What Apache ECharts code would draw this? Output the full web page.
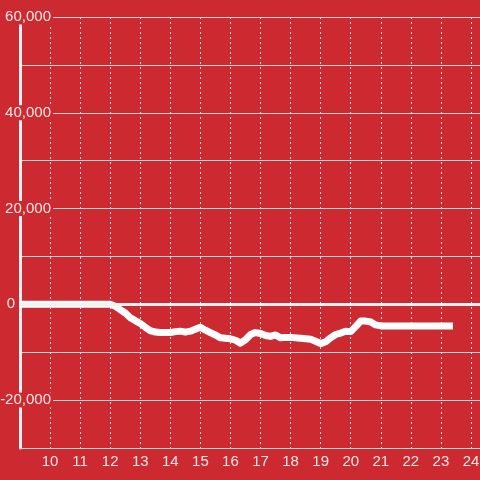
<!DOCTYPE html>
<html>
<head>
<meta charset="utf-8">
<script src="https://cdn.jsdelivr.net/npm/echarts@6/dist/echarts.min.js"></script>
<style>html,body{margin:0;padding:0;background:#cc2a30;}#c{width:480px;height:480px;}</style>
</head>
<body>
<div id="c"></div>
<script>
const hours = [9.0, 12.0, 12.17, 12.33, 12.5, 12.67, 12.83, 13.0, 13.17, 13.33, 13.5, 13.67, 14.0, 14.17, 14.33, 14.5, 14.67, 14.83, 15.0, 15.17, 15.33, 15.5, 15.67, 15.83, 16.0, 16.17, 16.33, 16.5, 16.67, 16.83, 17.0, 17.17, 17.33, 17.5, 17.67, 17.83, 18.0, 18.33, 18.67, 18.83, 19.0, 19.17, 19.33, 19.5, 19.67, 19.83, 20.0, 20.17, 20.33, 20.5, 20.67, 20.83, 21.0, 23.4];
const values = [0, 0, -400, -1100, -1800, -2800, -3400, -4000, -4800, -5500, -5800, -5900, -5900, -5700, -5600, -5800, -5600, -5200, -4800, -5400, -5900, -6400, -7000, -7100, -7200, -7500, -8100, -7400, -6300, -5900, -6100, -6500, -6700, -6400, -7000, -6900, -6900, -7100, -7300, -7700, -8200, -7800, -7000, -6300, -6000, -5600, -5700, -4600, -3500, -3500, -3700, -4300, -4500, -4500];
const xTicks = [10, 11, 12, 13, 14, 15, 16, 17, 18, 19, 20, 21, 22, 23, 24];
const yLabelValues = [60000, 40000, 20000, 0, -20000];

const bg = '#cc2a30';
const font = '"Liberation Sans", Arial, sans-serif';
const chart = echarts.init(document.getElementById('c'));
chart.setOption({
  backgroundColor: bg,
  animation: false,
  grid: { left: 20, right: 0, top: 17, bottom: 32, containLabel: false, outerBoundsMode: 'none' },
  xAxis: {
    type: 'value', min: 9, max: 24.3, interval: 1,
    axisLine: { onZero: false, lineStyle: { color: '#d6d6d6', width: 1 } },
    axisTick: { show: false },
    axisLabel: {
      color: '#f2e6e6', fontSize: 15, fontFamily: font, margin: 6,
      showMinLabel: false, showMaxLabel: false,
      formatter: v => xTicks.includes(v) ? String(v) : ''
    },
    splitLine: { show: true, lineStyle: { color: '#e0e0e0', type: [2, 3], width: 1 } }
  },
  yAxis: {
    type: 'value', min: -30000, max: 60000, interval: 10000,
    axisLine: { show: true, lineStyle: { color: '#f2f2f2', width: 3 } },
    axisTick: { show: false },
    axisLabel: {
      color: '#f2e6e6', fontSize: 15, fontFamily: font, margin: -33, align: 'right',
      formatter: v => {
        if (!yLabelValues.includes(v)) return '';
        if (v === 0) return '{z|0}';
        return '{a|' + v.toLocaleString('en-US') + '}';
      },
      rich: {
        a: { color: '#f2e6e6', fontSize: 15, fontFamily: font, backgroundColor: bg, padding: [0, 2, 0, 2], lineHeight: 14 },
        z: { color: '#f2e6e6', fontSize: 15, fontFamily: font, padding: [0, 38, 0, 0], lineHeight: 14 }
      }
    },
    splitLine: { show: true, lineStyle: { color: '#d6d6d6', width: 1 } }
  },
  series: [{
    type: 'line',
    data: hours.map((h, i) => [h, values[i]]),
    showSymbol: false,
    symbol: 'none',
    lineStyle: { color: '#ffffff', width: 7, join: 'round' },
    markLine: {
      silent: true, symbol: 'none', label: { show: false },
      lineStyle: { color: '#f2f2f2', width: 3, type: 'solid' },
      data: [{ yAxis: 0 }]
    },
    z: 3
  }]
});
</script>
</body>
</html>
